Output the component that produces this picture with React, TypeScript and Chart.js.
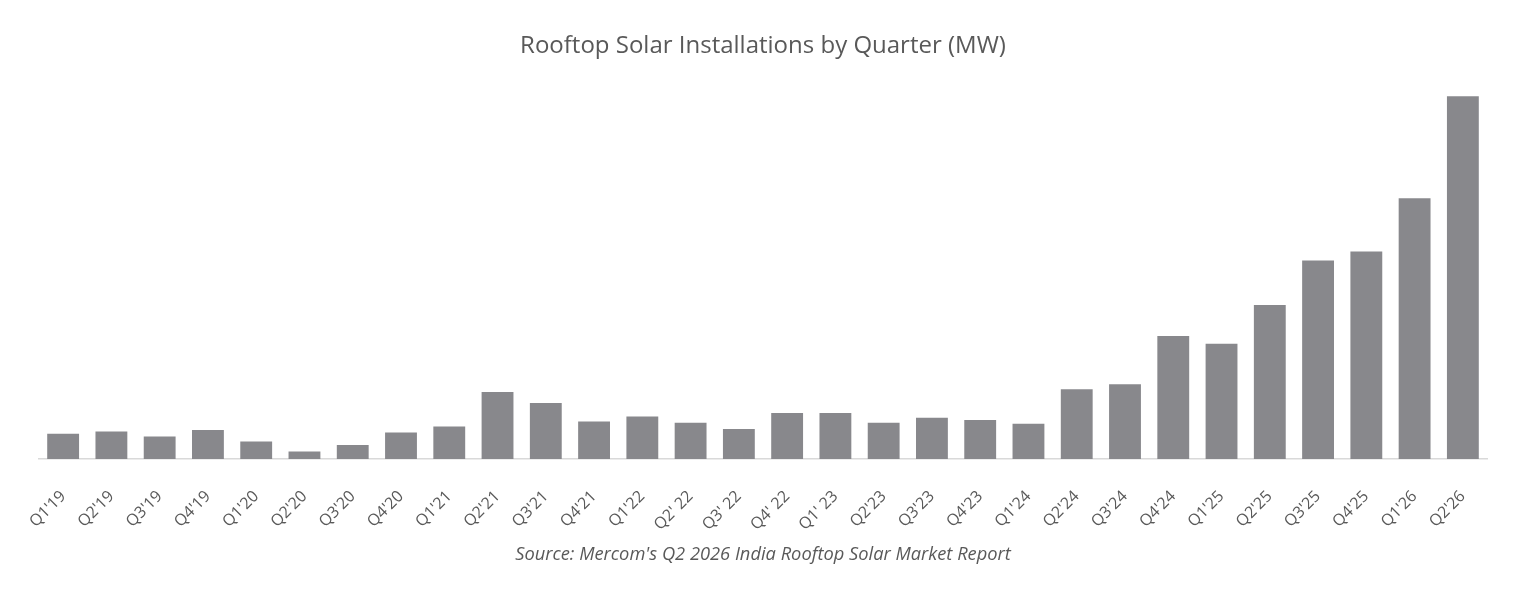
import React, { useRef, useEffect } from "react";
import Chart from "chart.js/auto";

const quarters = [
  "Q1'19", "Q2'19", "Q3'19", "Q4'19",
  "Q1'20", "Q2'20", "Q3'20", "Q4'20",
  "Q1'21", "Q2'21", "Q3'21", "Q4'21",
  "Q1'22", "Q2' 22", "Q3' 22", "Q4' 22",
  "Q1' 23", "Q2'23", "Q3'23", "Q4'23",
  "Q1'24", "Q2'24", "Q3'24", "Q4'24",
  "Q1'25", "Q2'25", "Q3'25", "Q4'25",
  "Q1'26", "Q2'26",
];

// installed capacity per quarter (MW)
const installedMW = [
  202, 221, 181, 232,
  141, 61, 112, 213,
  261, 538, 450, 301,
  341, 290, 240, 370,
  370, 290, 330, 312,
  282, 560, 600, 986,
  925, 1234, 1592, 1664,
  2090, 2909,
];

const titleText = "Rooftop Solar Installations by Quarter (MW)";
const sourceText = "Source: Mercom's Q2 2026 India Rooftop Solar Market Report";

const FONT = "'Open Sans', 'Noto Sans', sans-serif";
const TEXT_GREY = "#595959";

const QuarterlyChart: React.FC = () => {
  const chartRef = useRef<HTMLCanvasElement | null>(null);
  const chartInstance = useRef<Chart | null>(null);

  useEffect(() => {
    if (chartInstance.current) {
      chartInstance.current.destroy();
    }
    if (!chartRef.current) return;

    chartInstance.current = new Chart(chartRef.current, {
      type: "bar",
      data: {
        labels: quarters,
        datasets: [
          {
            label: "Installations (MW)",
            data: installedMW,
            backgroundColor: "#88888c",
            borderWidth: 0,
            barPercentage: 0.66,
            categoryPercentage: 1,
          },
        ],
      },
      options: {
        responsive: true,
        maintainAspectRatio: false,
        animation: false,
        layout: { padding: { left: 39, right: 28, top: 0, bottom: 0 } },
        plugins: {
          legend: { display: false },
          tooltip: { enabled: false },
          title: {
            display: true,
            text: titleText,
            color: TEXT_GREY,
            font: { family: FONT, size: 24, weight: "normal" },
            padding: { top: 32, bottom: 24 },
          },
          subtitle: {
            display: true,
            position: "bottom",
            text: sourceText,
            color: TEXT_GREY,
            font: { family: FONT, size: 18.3, style: "italic", weight: "normal" },
            padding: { top: 0, bottom: 26 },
          },
        },
        scales: {
          x: {
            grid: { display: false },
            border: { display: true, color: "#d9d9d9", width: 1.5 },
            ticks: {
              color: TEXT_GREY,
              font: { family: FONT, size: 16 },
              minRotation: 45,
              maxRotation: 45,
              padding: 20,
              autoSkip: false,
            },
            // keep the label band a fixed height so the labels can sit lower
            afterFit: (scale) => {
              scale.height = 85;
            },
          },
          y: {
            display: false,
            min: 0,
            max: 3000,
          },
        },
      },
    });

    return () => {
      if (chartInstance.current) {
        chartInstance.current.destroy();
        chartInstance.current = null;
      }
    };
  }, []);

  return <canvas ref={chartRef}></canvas>;
};

export default function App() {
  return (
    <div style={{ position: "fixed", inset: 0, background: "#ffffff" }}>
      <QuarterlyChart />
    </div>
  );
}
